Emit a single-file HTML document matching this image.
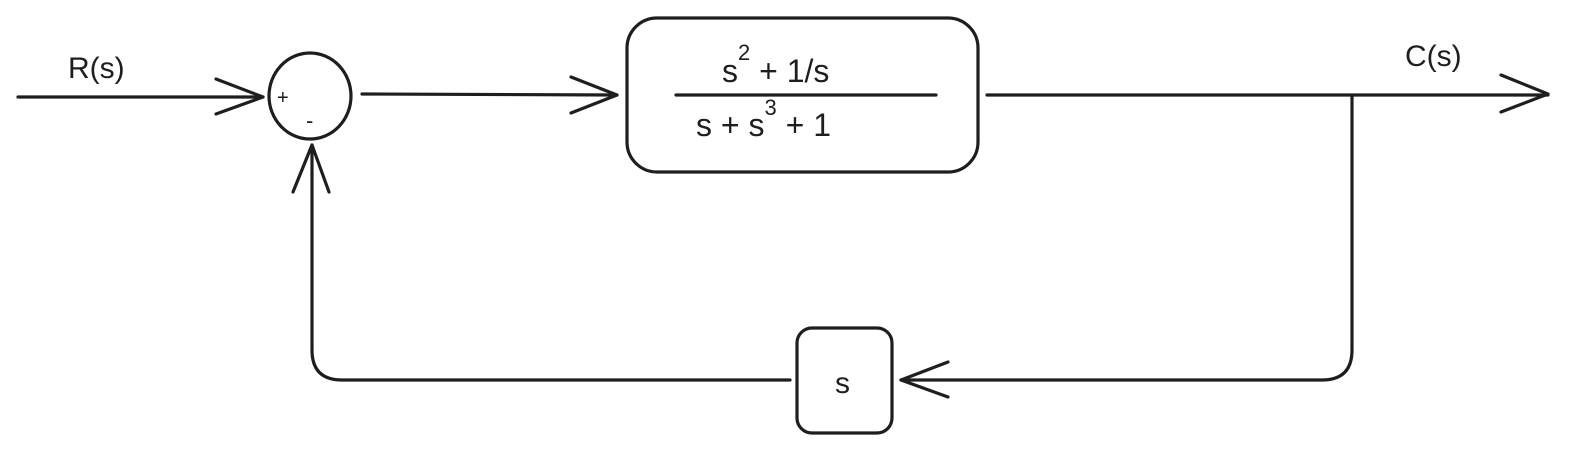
<!DOCTYPE html>
<html>
<head>
<meta charset="utf-8">
<style>
  html, body { margin: 0; padding: 0; background: #ffffff; }
  body { width: 1587px; height: 456px; overflow: hidden; }
  svg { display: block; }
  text { font-family: "Liberation Sans", "DejaVu Sans", sans-serif; fill: #1e1e1e; }
</style>
</head>
<body>
<svg width="1587" height="456" viewBox="0 0 1587 456" xmlns="http://www.w3.org/2000/svg">
  <g fill="none" stroke="#1e1e1e" stroke-width="3.2" stroke-linecap="round" stroke-linejoin="round">
    <path d="M18 97 L263 97"/>
    <path d="M216 79 L263 97 L216 114"/>
    <ellipse cx="310" cy="96" rx="41" ry="43"/>
    <path d="M362 94 L617 95"/>
    <path d="M571 77 L617 95 L571 113"/>
    <rect x="627" y="18" width="351" height="154" rx="30" ry="30"/>
    <path d="M676 95 L936 95"/>
    <path d="M987 95 L1548 95"/>
    <path d="M1501 75 L1548 94 L1501 112"/>
    <path d="M1352 95 L1352 350 Q1352 380 1322 380 L901 380"/>
    <path d="M948 362 L901 380 L948 397"/>
    <rect x="797" y="328" width="95" height="105" rx="15" ry="15"/>
    <path d="M790 380 L342 380 Q312 380 312 350 L312 145"/>
    <path d="M293 192 L312 145 L329 192"/>
  </g>
  <text x="68" y="78" font-size="30">R(s)</text>
  <text x="1405" y="66" font-size="30">C(s)</text>
  <text x="277" y="104" font-size="20">+</text>
  <text x="306" y="128" font-size="22">-</text>
  <text x="722" y="82" font-size="32">s<tspan font-size="22" dy="-22">2</tspan><tspan dy="22"> + 1/s</tspan></text>
  <text x="696" y="136" font-size="32">s + s<tspan font-size="22" dy="-21">3</tspan><tspan dy="21"> + 1</tspan></text>
  <text x="835" y="393" font-size="30">s</text>
</svg>
</body>
</html>
